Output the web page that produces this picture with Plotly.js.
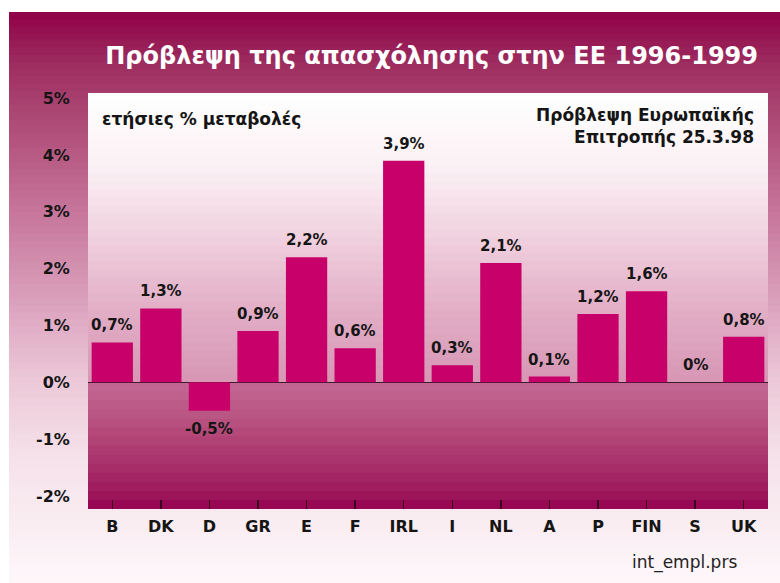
<!DOCTYPE html>
<html>
<head>
<meta charset="utf-8">
<script src="https://cdn.plot.ly/plotly-3.0.1.min.js"></script>
<style>html,body{margin:0;padding:0;background:#fff;}#chart{width:780px;height:583px;}</style>
</head>
<body>
<div id="chart"></div>
<script>
// ---- data ----
var countries = ["B","DK","D","GR","E","F","IRL","I","NL","A","P","FIN","S","UK"];
var changes = [0.7, 1.3, -0.5, 0.9, 2.2, 0.6, 3.9, 0.3, 2.1, 0.1, 1.2, 1.6, 0, 0.8];
var valueLabels = ["0,7%","1,3%","-0,5%","0,9%","2,2%","0,6%","3,9%","0,3%","2,1%","0,1%","1,2%","1,6%","0%","0,8%"];
var yTickVals = [-2, -1, 0, 1, 2, 3, 4, 5];
var yTickText = ["-2%","-1%","0%","1%","2%","3%","4%","5%"];
var titleText = "Πρόβλεψη της απασχόλησης στην ΕΕ 1996-1999";
var unitText = "ετήσιες % μεταβολές";
var sourceText = "Πρόβλεψη Ευρωπαϊκής<br>Επιτροπής 25.3.98";
var fileText = "int_empl.prs";

// ---- geometry ----
var W = 780, H = 583;
var M = {l: 88, r: 12, t: 93, b: 74};
var PW = W - M.l - M.r, PH = H - M.t - M.b;
var yRange = [-2.23, 5.09];
function px2x(px){ return (px - M.l) / PW; }
function px2y(py){ return (H - M.b - py) / PH; }

function hex2rgb(h){ return [parseInt(h.substr(1,2),16), parseInt(h.substr(3,2),16), parseInt(h.substr(5,2),16)]; }
function interp(stops, t){
  for (var i = 0; i < stops.length - 1; i++) {
    var a = stops[i], b = stops[i+1];
    if (t >= a[0] && t <= b[0]) {
      var f = (t - a[0]) / (b[0] - a[0] || 1);
      var ca = hex2rgb(a[1]), cb = hex2rgb(b[1]);
      return 'rgb(' + [0,1,2].map(function(k){ return Math.round(ca[k] + (cb[k]-ca[k])*f); }).join(',') + ')';
    }
  }
  return stops[stops.length-1][1];
}

var shapes = [];
// outer frame gradient (pixel stops); each band runs to the frame bottom so no seams appear
var outerStops = [[12,'#900046'],[60,'#9c2a5e'],[100,'#a8406e'],[200,'#c47096'],[300,'#daa0bc'],[380,'#ecc8d8'],[460,'#f6e2ea'],[583,'#fdf7fa']];
var nO = 80, top0 = 12, bot0 = 584;
for (var i = 0; i < nO; i++) {
  var ya = top0 + (bot0 - top0) * i / nO, yb = top0 + (bot0 - top0) * (i + 1) / nO;
  shapes.push({type:'rect', xref:'paper', yref:'paper', x0:px2x(9), x1:px2x(781), y0:px2y(bot0), y1:px2y(ya), fillcolor: interp(outerStops, (ya+yb)/2), line:{width:0}, layer:'below'});
}
// plot area above zero
var aboveStops = [[0,'#ffffff'],[0.25,'#fbf1f5'],[0.5,'#f0d0de'],[0.75,'#e2aec6'],[1,'#d796b4']];
var nA = 36;
for (var i = 0; i < nA; i++) {
  var va = yRange[1] - yRange[1] * i / nA;
  shapes.push({type:'rect', xref:'paper', yref:'y', x0:0, x1:1, y0:0, y1:va, fillcolor: interp(aboveStops, (i + 0.5) / nA), line:{width:0}, layer:'below'});
}
// plot area below zero
var belowStops = [[0,'#c46894'],[0.3,'#b8527f'],[0.65,'#a8306a'],[0.9,'#9c145a'],[1,'#960050']];
var nB = 14;
for (var i = 0; i < nB; i++) {
  var va = yRange[0] * i / nB;
  shapes.push({type:'rect', xref:'paper', yref:'y', x0:0, x1:1, y0:yRange[0], y1:va, fillcolor: interp(belowStops, (i + 0.5) / nB), line:{width:0}, layer:'below'});
}

var FONT = "DejaVu Sans, Verdana, sans-serif";

var annotations = countries.map(function(c, i){
  var v = changes[i];
  var neg = v < 0;
  return {x: c, y: v, xref:'x', yref:'y', text: valueLabels[i], showarrow:false,
    yanchor: neg ? 'top' : 'bottom', yshift: neg ? -7 : 6,
    font:{family:FONT, size:15, color:'#151515', weight:700}};
});
annotations.push({xref:'paper', yref:'paper', x:px2x(100), y:px2y(119), xanchor:'left', yanchor:'middle', text:unitText, showarrow:false, font:{family:FONT, size:17, color:'#151515', weight:700}});
annotations.push({xref:'paper', yref:'paper', x:px2x(756), y:px2y(126), xanchor:'right', yanchor:'middle', align:'right', text:sourceText, showarrow:false, font:{family:FONT, size:17, color:'#151515', weight:700}});
annotations.push({xref:'paper', yref:'paper', x:px2x(739), y:px2y(562), xanchor:'right', yanchor:'middle', text:fileText, showarrow:false, font:{family:FONT, size:17, color:'#222222'}});

var traces = [
  {type:'bar', x: countries, y: changes, marker:{color:'#c8006a', line:{width:0}}, hoverinfo:'x+y', showlegend:false}
];

var layout = {
  width: W, height: H,
  margin: M,
  paper_bgcolor: '#ffffff',
  plot_bgcolor: 'rgba(0,0,0,0)',
  bargap: 0.15,
  showlegend: false,
  title: {text: titleText, xref:'container', yref:'container', x: 758/W, xanchor:'right', y: 1 - 56/H, yanchor:'middle',
    font:{family:FONT, size:24, color:'#ffffff', weight:700}},
  xaxis: {type:'category', categoryorder:'array', categoryarray: countries, range:[-0.5, 13.5],
    ticks:'inside', ticklen:9, tickwidth:1.5, tickcolor:'#3a0020', layer:'above traces',
    showline:false, showgrid:false, zeroline:false, fixedrange:true,
    tickfont:{family:FONT, size:16, color:'#151515', weight:700}, ticklabelstandoff: 6},
  yaxis: {range: yRange, tickvals: yTickVals, ticktext: yTickText, ticks:'outside', ticklen:14, tickcolor:'rgba(0,0,0,0)',
    showgrid:false, showline:false, zeroline:true, zerolinecolor:'#3a1a2a', zerolinewidth:1, fixedrange:true,
    tickfont:{family:FONT, size:16, color:'#151515', weight:700}},
  shapes: shapes,
  annotations: annotations
};

Plotly.newPlot('chart', traces, layout, {displayModeBar:false, staticPlot:true});
</script>
</body>
</html>
